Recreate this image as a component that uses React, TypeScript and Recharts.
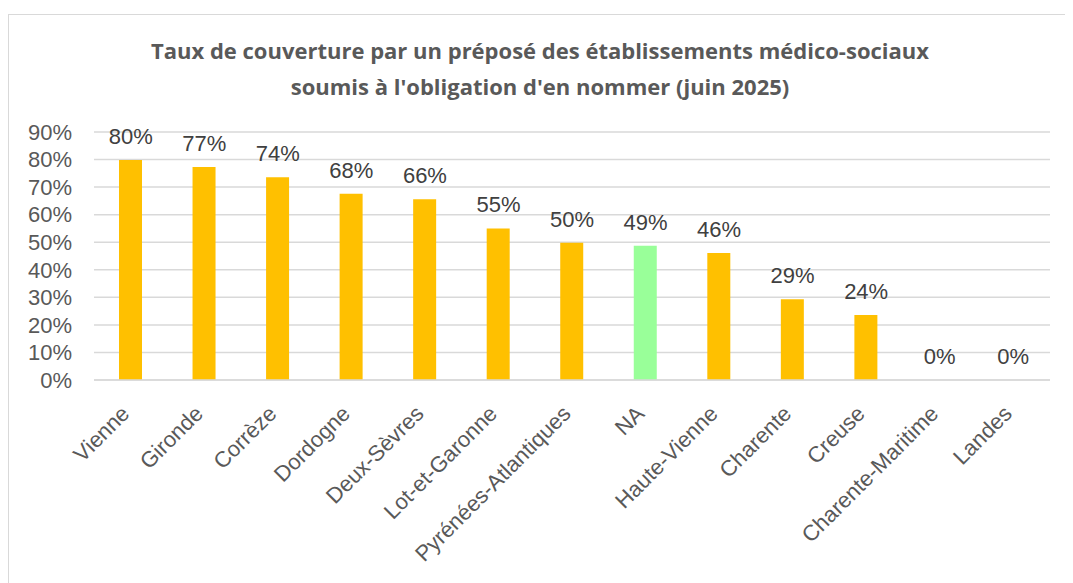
import { ComposedChart, Bar, Line, XAxis, YAxis, CartesianGrid, Cell } from 'recharts'

const departements = [
  'Vienne',
  'Gironde',
  'Corrèze',
  'Dordogne',
  'Deux-Sèvres',
  'Lot-et-Garonne',
  'Pyrénées-Atlantiques',
  'NA',
  'Haute-Vienne',
  'Charente',
  'Creuse',
  'Charente-Maritime',
  'Landes',
]
const taux = [79.8, 77.3, 73.6, 67.6, 65.6, 55.0, 49.8, 48.7, 46.1, 29.3, 23.6, 0, 0]
const yTicks = [0, 10, 20, 30, 40, 50, 60, 70, 80, 90]

const data = departements.map((name, i) => ({ name, taux: taux[i] }))

const font = 'Arial, "Liberation Sans", sans-serif'

function AngledTick(props: any) {
  const { x, y, payload } = props
  const tx = x
  const ty = y + 27
  return (
    <text
      x={tx}
      y={ty}
      transform={`rotate(-45 ${tx} ${ty})`}
      textAnchor="end"
      fill="#595959"
      fontSize={22}
      fontFamily={font}
    >
      {payload.value}
    </text>
  )
}

// labels drawn from the points of an invisible line so the 0% values show too
function ValueLabel(props: any) {
  const { x, y, value } = props
  return (
    <text
      x={x}
      y={y - 16}
      textAnchor="middle"
      fill="#404040"
      fontSize={22}
      fontFamily={font}
    >
      {`${Math.round(Number(value))}%`}
    </text>
  )
}

export default function App() {
  return (
    <div
      style={{
        marginTop: 6,
        width: 1064,
        height: 568,
        borderLeft: '1px solid #d9d9d9',
        borderTop: '1px solid #d9d9d9',
        position: 'relative',
        background: '#fff',
      }}
    >
      <div
        style={{
          position: 'absolute',
          left: 0,
          width: 1062,
          top: 17,
          textAlign: 'center',
          fontFamily: '"Open Sans", sans-serif',
          fontWeight: 700,
          fontSize: 22,
          lineHeight: '36px',
          color: '#595959',
        }}
      >
        Taux de couverture par un préposé des établissements médico-sociaux
        <br />
        soumis à l'obligation d'en nommer (juin 2025)
      </div>
      <ComposedChart
        width={1060}
        height={567}
        data={data}
        margin={{ top: 117, right: 19, left: 0, bottom: 0 }}
        barCategoryGap={0}
      >
        <CartesianGrid vertical={false} stroke="#d9d9d9" strokeWidth={1.5} />
        <XAxis
          dataKey="name"
          interval={0}
          height={202}
          tickLine={false}
          axisLine={{ stroke: '#d9d9d9', strokeWidth: 1.5 }}
          tick={<AngledTick />}
        />
        <YAxis
          domain={[0, 90]}
          ticks={yTicks}
          interval={0}
          width={85}
          tickLine={false}
          axisLine={false}
          tickMargin={16}
          tickFormatter={(v: number) => `${v}%`}
          tick={{ fill: '#595959', fontSize: 22, fontFamily: font }}
        />
        <Bar dataKey="taux" barSize={23} isAnimationActive={false}>
          {data.map((d) => (
            <Cell key={d.name} fill={d.name === 'NA' ? '#99ff99' : '#ffc000'} />
          ))}
        </Bar>
        <Line
          dataKey="taux"
          stroke="none"
          dot={false}
          activeDot={false}
          isAnimationActive={false}
          label={<ValueLabel />}
        />
      </ComposedChart>
    </div>
  )
}
